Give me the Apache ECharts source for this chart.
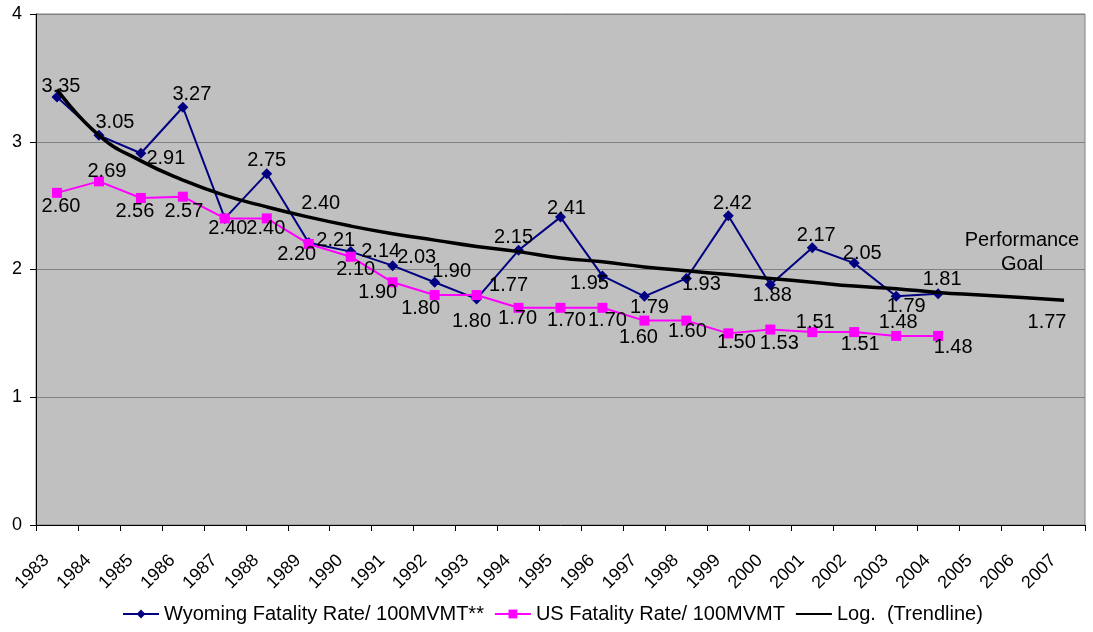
<!DOCTYPE html>
<html>
<head>
<meta charset="utf-8">
<script src="https://cdn.jsdelivr.net/npm/echarts@6/dist/echarts.min.js"></script>
<style>
html,body{margin:0;padding:0;background:#ffffff;}
#chart{width:1093px;height:632px;}
</style>
</head>
<body>
<div id="chart"></div>
<script>
// ---- data ----
const years = ['1983','1984','1985','1986','1987','1988','1989','1990','1991','1992','1993','1994','1995','1996','1997','1998','1999','2000','2001','2002','2003','2004','2005','2006','2007'];
const wyoming = [3.35,3.05,2.91,3.27,2.40,2.75,2.21,2.14,2.03,1.90,1.77,2.15,2.41,1.95,1.79,1.93,2.42,1.88,2.17,2.05,1.79,1.81];
const us = [2.60,2.69,2.56,2.57,2.40,2.40,2.20,2.10,1.90,1.80,1.80,1.70,1.70,1.70,1.60,1.60,1.50,1.53,1.51,1.51,1.48,1.48];
const trend = [3.41,3.05,2.85,2.70,2.58,2.49,2.41,2.34,2.28,2.23,2.18,2.14,2.09,2.06,2.02,1.99,1.96,1.93,1.90,1.87,1.85,1.82,1.80,1.78,1.76];
const goalYear = '2007';
const goalValue = 1.77;
const yTicks = [0,1,2,3,4];
const seriesNames = ['Wyoming Fatality Rate/ 100MVMT**','US Fatality Rate/ 100MVMT','Log.  (Trendline)'];
const goalText = 'Performance\nGoal';

// ---- label placement (style only): offset of label centre from its point ----
const wyLabelOffsets = [[4,-11],[16,-13],[25,5],[9,-13],[3,10],[0,-13],[27,-2],[30,0],[24,-8],[17,-11],[32,-13],[-5,-13],[6,-9],[-13,8],[5,11],[15,6],[4,-12],[2,11],[4,-12],[8,-10],[10,10],[4,-14]];
const usLabelOffsets = [[4,14],[8,-10],[-6,14],[1,15],[41,10],[54,-15],[-12,11],[5,13],[-15,10],[-14,13],[-5,26],[-1,11],[6,13],[5,13],[-6,17],[1,11],[8,9],[9,14],[3,-10],[6,12],[2,-13],[15,12]];
const goalLabelOffset = [-17,24];

const FONT = 'Arial, "Liberation Sans", sans-serif';
const fmt = p => Number(Array.isArray(p.value) ? p.value[1] : p.value).toFixed(2);

function withLabels(arr, offs){
  return arr.map((v,i)=>({value:v, label:{offset:offs[i]}}));
}

const chart = echarts.init(document.getElementById('chart'), null, {renderer:'canvas'});
const option = {
  animation:false,
  backgroundColor:'#ffffff',
  textStyle:{fontFamily:FONT},
  grid:{left:36,right:8,top:14,bottom:107,show:true,backgroundColor:'#c0c0c0',borderColor:'#808080',borderWidth:1},
  legend:{
    data:seriesNames,
    left:117, top:599,
    itemWidth:36, itemHeight:11, itemGap:10,
    textStyle:{fontFamily:FONT,fontSize:20,color:'#000'}
  },
  xAxis:{
    type:'category', data:years, boundaryGap:true,
    axisLine:{lineStyle:{color:'#000',width:1}},
    axisTick:{show:true,interval:0,length:6,lineStyle:{color:'#000'}},
    axisLabel:{interval:0,rotate:45,fontSize:18,color:'#000',fontFamily:FONT,margin:22,padding:[0,15,0,0]},
    splitLine:{show:false}
  },
  yAxis:{
    type:'value', min:yTicks[0], max:yTicks[yTicks.length-1], interval:1,
    axisLine:{show:true,lineStyle:{color:'#000',width:1}},
    axisTick:{show:true,length:6,lineStyle:{color:'#000'}},
    axisLabel:{fontSize:18,color:'#000',fontFamily:FONT,margin:14},
    splitLine:{show:true,lineStyle:{color:'#808080',width:1}}
  },
  series:[
    {
      name:seriesNames[0], type:'line', data:withLabels(wyoming,wyLabelOffsets),
      symbol:'diamond', symbolSize:11, z:2,
      lineStyle:{color:'#000080',width:2}, itemStyle:{color:'#000080'},
      label:{show:true,position:'inside',formatter:fmt,fontSize:20,color:'#000',fontFamily:FONT}
    },
    {
      name:seriesNames[1], type:'line', data:withLabels(us,usLabelOffsets),
      symbol:'rect', symbolSize:10, z:3,
      lineStyle:{color:'#ff00ff',width:2}, itemStyle:{color:'#ff00ff'},
      label:{show:true,position:'inside',formatter:fmt,fontSize:20,color:'#000',fontFamily:FONT}
    },
    {
      name:seriesNames[2], type:'line', data:trend, smooth:true,
      symbol:'none', z:4,
      lineStyle:{color:'#000000',width:3.5}, itemStyle:{color:'rgba(0,0,0,0)',borderWidth:0}
    },
    {
      name:'goal', type:'scatter', data:[[goalYear,goalValue]],
      symbolSize:0, z:5, silent:true, itemStyle:{opacity:1,color:'#000'},
      label:{show:true,position:'inside',offset:goalLabelOffset,formatter:fmt,fontSize:20,color:'#000',fontFamily:FONT}
    }
  ],
  graphic:[{
    type:'text', x:1022, y:228, z:10,
    style:{text:goalText,fontSize:20,fontFamily:FONT,fill:'#000',align:'center',verticalAlign:'top',lineHeight:24}
  }]
};
chart.setOption(option);
</script>
</body>
</html>
